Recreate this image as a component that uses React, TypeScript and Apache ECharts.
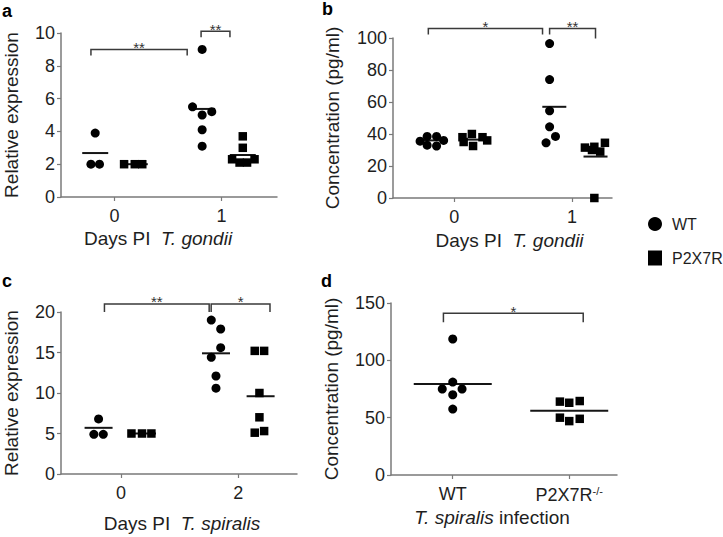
import React, { useEffect, useRef } from "react";
import * as echarts from "echarts";

const FONT = "'Liberation Sans', Arial, Helvetica, sans-serif";

// ---- Panel a: relative expression, T. gondii (days PI 0 and 1) ----
const aWT: [number, number][] = [
  [-0.22, 2.0], [-0.14, 2.0], [-0.18, 3.9],
  [0.82, 9.0], [0.73, 5.5], [0.82, 5.0], [0.91, 5.2], [0.82, 4.1], [0.82, 3.1],
];
const aKO: [number, number][] = [
  [0.09, 2.0], [0.19, 2.0], [0.26, 2.0],
  [1.2, 3.7], [1.2, 3.0], [1.1, 2.3], [1.17, 2.1], [1.24, 2.1], [1.31, 2.3],
];
const aMeans: [number, number][] = [[-0.18, 2.68], [0.82, 5.37], [0.19, 2.0], [1.2, 2.56]];
const aTicks = ["0", "1"];

// ---- Panel b: concentration (pg/ml), T. gondii ----
const bWT: [number, number][] = [
  [-0.29, 35.5], [-0.23, 38.5], [-0.23, 33], [-0.15, 38.5], [-0.15, 32.5], [-0.09, 36],
  [0.81, 96.5], [0.81, 74], [0.81, 54.5], [0.81, 44.5], [0.86, 38.5], [0.78, 34.5],
];
const bKO: [number, number][] = [
  [0.07, 38], [0.15, 40], [0.24, 38], [0.28, 36], [0.08, 35], [0.16, 32.5],
  [1.19, 32], [1.28, 34.5], [1.24, 29], [1.17, 30], [1.11, 31.5], [1.19, 0],
];
const bMeans: [number, number][] = [[-0.19, 36], [0.85, 57], [0.17, 36.5], [1.2, 25.9]];
const bTicks = ["0", "1"];

// ---- Panel c: relative expression, T. spiralis (days PI 0 and 2) ----
const cWT: [number, number][] = [
  [-0.23, 4.9], [-0.15, 4.9], [-0.19, 6.8],
  [0.77, 19], [0.85, 17.9], [0.85, 15.6], [0.77, 14.4], [0.81, 12.1], [0.81, 10.6],
];
const cKO: [number, number][] = [
  [0.09, 5], [0.18, 5], [0.26, 5],
  [1.14, 15.2], [1.22, 15.2], [1.18, 10.0], [1.18, 7.0], [1.14, 5.1], [1.22, 5.3],
];
const cMeans: [number, number][] = [[-0.19, 5.7], [0.81, 14.9], [0.18, 5.0], [1.19, 9.6]];
const cTicks = ["0", "2"];

// ---- Panel d: concentration (pg/ml), T. spiralis infection ----
const dWT: [number, number][] = [[0, 118.6], [0, 81], [-0.09, 75], [0.08, 75], [0, 70], [0, 57.5]];
const dKO: [number, number][] = [[0.92, 64], [1, 63], [1.09, 64.5], [0.92, 50], [1, 47], [1.09, 49]];
const dMeans: [number, number][] = [[0, 79.3], [1, 56]];
const dTicks = ["WT", "P2X7R{s|-/-}"];

// significance brackets: [xStart, xEnd, yLevel]
const aBrackets: [number, number, number][] = [[-0.22, 0.68, 9.0], [0.81, 1.08, 10.1]];
const aStars = ["**", "**"];
const bBrackets: [number, number, number][] = [[-0.22, 0.75, 106], [0.81, 1.2, 106]];
const bStars = ["*", "**"];
const cBrackets: [number, number, number][] = [[-0.14, 0.752, 21], [0.769, 1.27, 21]];
const cStars = ["**", "*"];
const dBrackets: [number, number, number][] = [[-0.08, 1.12, 141]];
const dStars = ["*"];

const AXIS_COLOR = "#7a7a7a";
const TEXT_COLOR = "#1e1e1e";

type Panel = {
  grid: { left: number; top: number; width: number; height: number };
  xMin: number; xMax: number;
  yMax: number; yInterval: number;
  ticks: string[];
  xName: string; xNameGap: number; xNamePad: number[];
  yName: string; yNameGap: number;
  wt: [number, number][]; ko: [number, number][];
  means: [number, number][]; meanHW: number;
  brackets: [number, number, number][]; stars: string[];
  drops: [number, number][];
};

const panels: Panel[] = [
  {
    grid: { left: 61, top: 33, width: 216, height: 164 },
    xMin: -0.5, xMax: 1.52, yMax: 10, yInterval: 2, ticks: aTicks,
    xName: "Days PI  {i|T. gondii}", xNameGap: 32, xNamePad: [0, 22, 0, 0],
    yName: "Relative expression", yNameGap: 40,
    wt: aWT, ko: aKO, means: aMeans, meanHW: 13,
    brackets: aBrackets, stars: aStars, drops: [[6, 6], [6, 6]],
  },
  {
    grid: { left: 393, top: 38, width: 219, height: 160 },
    xMin: -0.52, xMax: 1.34, yMax: 100, yInterval: 20, ticks: bTicks,
    xName: "Days PI  {i|T. gondii}", xNameGap: 33, xNamePad: [0, 0, 0, 14],
    yName: "Concentration (pg/ml)", yNameGap: 51,
    wt: bWT, ko: bKO, means: bMeans, meanHW: 12,
    brackets: bBrackets, stars: bStars, drops: [[6, 6], [6, 10]],
  },
  {
    grid: { left: 61, top: 312, width: 236, height: 162 },
    xMin: -0.51, xMax: 1.5, yMax: 20, yInterval: 5, ticks: cTicks,
    xName: "Days PI  {i|T. spiralis}", xNameGap: 40, xNamePad: [0, 0, 0, 6],
    yName: "Relative expression", yNameGap: 40,
    wt: cWT, ko: cKO, means: cMeans, meanHW: 14,
    brackets: cBrackets, stars: cStars, drops: [[8, 8], [8, 8]],
  },
  {
    grid: { left: 391, top: 303, width: 226, height: 172 },
    xMin: -0.53, xMax: 1.41, yMax: 150, yInterval: 50, ticks: dTicks,
    xName: "{i|T. spiralis} infection", xNameGap: 33, xNamePad: [0, 24, 0, 0],
    yName: "Concentration (pg/ml)", yNameGap: 50,
    wt: dWT, ko: dKO, means: dMeans, meanHW: 39,
    brackets: dBrackets, stars: dStars, drops: [[9, 9]],
  },
];

const panelLetters = ["a", "b", "c", "d"];
const letterPos: [number, number][] = [[2, 20], [322, 18], [2, 290], [321, 290]];

function buildOption() {
  const grids: any[] = [];
  const xAxes: any[] = [];
  const yAxes: any[] = [];
  const series: any[] = [];

  panels.forEach((p, i) => {
    grids.push({ ...p.grid, containLabel: false });
    xAxes.push({
      type: "value",
      gridIndex: i,
      min: p.xMin,
      max: p.xMax,
      splitLine: { show: false },
      axisLine: { show: true, onZero: false, lineStyle: { color: AXIS_COLOR, width: 1.5 } },
      axisTick: { show: true, customValues: [0, 1], length: 4, lineStyle: { color: AXIS_COLOR, width: 1.2 } },
      axisLabel: {
        customValues: [0, 1],
        formatter: (v: number) => p.ticks[Math.round(v)] ?? "",
        fontSize: 18,
        fontFamily: FONT,
        color: TEXT_COLOR,
        margin: 10,
        rich: { s: { fontSize: 11, fontFamily: FONT, color: TEXT_COLOR, verticalAlign: "top", padding: [0, 0, 8, 0] } },
      },
      name: p.xName,
      nameLocation: "middle",
      nameGap: p.xNameGap,
      nameTextStyle: {
        fontSize: 19,
        fontFamily: FONT,
        color: TEXT_COLOR,
        padding: p.xNamePad,
        verticalAlign: "top",
        rich: { i: { fontStyle: "italic", fontSize: 19, fontFamily: FONT, color: TEXT_COLOR } },
      },
    });
    yAxes.push({
      type: "value",
      gridIndex: i,
      min: 0,
      max: p.yMax,
      interval: p.yInterval,
      splitLine: { show: false },
      axisLine: { show: true, onZero: false, lineStyle: { color: AXIS_COLOR, width: 1.5 } },
      axisTick: { show: true, length: 4, lineStyle: { color: AXIS_COLOR, width: 1.2 } },
      axisLabel: { fontSize: 18, fontFamily: FONT, color: TEXT_COLOR, margin: 6 },
      name: p.yName,
      nameLocation: "middle",
      nameGap: p.yNameGap,
      nameTextStyle: { fontSize: 19, fontFamily: FONT, color: TEXT_COLOR },
    });

    series.push({
      type: "scatter",
      name: "WT",
      xAxisIndex: i,
      yAxisIndex: i,
      data: p.wt,
      symbol: "circle",
      symbolSize: 9,
      itemStyle: { color: "#000", opacity: 1 },
      clip: false,
      silent: true,
      z: 3,
    });
    series.push({
      type: "scatter",
      name: "P2X7R",
      xAxisIndex: i,
      yAxisIndex: i,
      data: p.ko,
      symbol: "rect",
      symbolSize: 8.5,
      itemStyle: { color: "#000", opacity: 1 },
      clip: false,
      silent: true,
      z: 3,
    });
    series.push({
      type: "custom",
      name: "mean" + i,
      xAxisIndex: i,
      yAxisIndex: i,
      data: p.means,
      clip: false,
      silent: true,
      z: 2,
      renderItem: (_params: any, api: any) => {
        const c = api.coord([api.value(0), api.value(1)]);
        return {
          type: "line",
          shape: { x1: c[0] - p.meanHW, y1: c[1], x2: c[0] + p.meanHW, y2: c[1] },
          style: { stroke: "#151515", lineWidth: 2 },
        };
      },
    });
    series.push({
      type: "custom",
      name: "sig" + i,
      xAxisIndex: i,
      yAxisIndex: i,
      data: p.brackets,
      encode: { x: [0, 1], y: 2 },
      clip: false,
      silent: true,
      z: 4,
      renderItem: (params: any, api: any) => {
        const idx = params.dataIndex;
        const a = api.coord([api.value(0), api.value(2)]);
        const b = api.coord([api.value(1), api.value(2)]);
        const [dl, dr] = p.drops[idx];
        return {
          type: "group",
          children: [
            {
              type: "polyline",
              shape: { points: [[a[0], a[1] + dl], [a[0], a[1]], [b[0], b[1]], [b[0], b[1] + dr]] },
              style: { stroke: "#3a3a3a", lineWidth: 1.5, fill: null },
            },
            {
              type: "text",
              x: (a[0] + b[0]) / 2,
              y: a[1] - 2,
              style: {
                text: p.stars[idx],
                align: "center",
                verticalAlign: "middle",
                fontSize: 15,
                fontFamily: FONT,
                fill: "#333",
              },
            },
          ],
        };
      },
    });
  });

  return {
    animation: false,
    backgroundColor: "#ffffff",
    textStyle: { fontFamily: FONT },
    grid: grids,
    xAxis: xAxes,
    yAxis: yAxes,
    legend: {
      orient: "vertical",
      left: 648,
      top: 216,
      itemWidth: 14,
      itemHeight: 15,
      itemGap: 18,
      selectedMode: false,
      padding: 0,
      textStyle: { fontSize: 16, fontFamily: FONT, color: TEXT_COLOR, padding: [0, 0, 0, 5] },
      data: [
        { name: "WT", icon: "circle", itemStyle: { color: "#000", opacity: 1 } },
        { name: "P2X7R", icon: "rect", itemStyle: { color: "#000", opacity: 1 } },
      ],
    },
    graphic: panelLetters.map((t, k) => ({
      type: "text",
      x: letterPos[k][0],
      y: letterPos[k][1],
      style: {
        text: t,
        fontSize: 18,
        fontWeight: "bold",
        fontFamily: FONT,
        fill: "#000",
        verticalAlign: "bottom",
      },
    })),
    series,
  };
}

export default function App() {
  const ref = useRef<HTMLDivElement>(null);
  useEffect(() => {
    if (!ref.current) return;
    const chart = echarts.init(ref.current, undefined, { renderer: "svg" });
    chart.setOption(buildOption() as any);
    return () => chart.dispose();
  }, []);
  return (
    <div
      ref={ref}
      style={{ position: "absolute", left: 0, top: 0, width: 723, height: 537, background: "#fff" }}
    />
  );
}
